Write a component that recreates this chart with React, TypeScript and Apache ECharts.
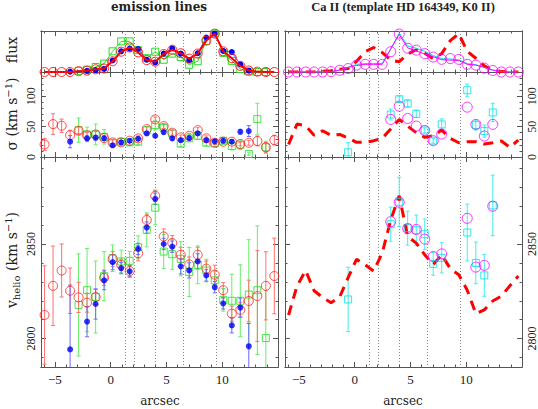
import React, { useEffect, useRef } from "react";
import * as echarts from "echarts";

// ---------- data ----------
const positions = [-5.93, -5.17, -4.4, -3.64, -2.88, -2.12, -1.35, -0.59, 0.17, 0.94, 1.7, 2.46, 3.23, 3.99, 4.75, 5.52, 6.28, 7.04, 7.8, 8.57, 9.33, 10.09, 10.86, 11.62, 12.38, 13.15, 13.91, 14.67];
const dottedLines = [1.32, 2.05, 4.0, 6.52, 9.43];

const xTickMajor = [-5, 0, 5, 10, 15];
const xTickLabels = [-5, 0, 5, 10];
const xTickMinor = [-6, -4, -3, -2, -1, 1, 2, 3, 4, 6, 7, 8, 9, 11, 12, 13, 14];
const sigmaTickMajor = [0, 50, 100];
const sigmaTickMinor = [10, 20, 30, 40, 60, 70, 80, 90, 110, 120, 130];
const velTickMajor = [2800, 2850];
const velTickMinor = [2790, 2810, 2820, 2830, 2840, 2860, 2870, 2880, 2890];

type N = number | null;
// emission lines: flux
const fluxRed: N[] = [0, 0, 0, 0, 0.02, 0.035, 0.07, 0.09, 0.28, 0.53, 0.64, 0.51, 0.31, 0.27, 0.47, 0.58, 0.49, 0.35, 0.48, 0.82, 1.0, 0.54, 0.36, 0.16, 0.04, 0.01, 0, 0];
const fluxBlue: N[] = [null, null, null, 0.01, null, 0.03, 0.05, 0.08, 0.3, 0.54, 0.61, 0.6, 0.32, 0.25, 0.48, 0.62, 0.48, 0.31, 0.49, 0.9, 1.0, 0.55, 0.52, 0.2, 0.035, null, null, null];
const fluxGreen: N[] = [null, null, null, null, 0.03, 0.06, 0.13, 0.22, 0.54, 0.8, 0.8, 0.57, 0.36, 0.53, 0.32, 0.48, 0.39, 0.19, 0.28, 0.81, 1.0, 0.5, 0.29, 0.08, 0.01, 0, 0, null];
// emission lines: sigma
const sigRed: N[] = [20.8, 54.2, 51.4, 36, 43.2, 35.6, 37.2, 31.2, 24.1, 24.1, 26.8, 30.7, 46, 61.9, 50.9, 40, 32.3, 35, 44.3, 30.7, 23.5, 25.2, 25.2, 21.3, 23.5, 26.3, 15.9, 27.9];
const sigRedErr: N[] = [10, 17, 11, 8, 6, 5, 5, 4, 4, 3, 3, 4, 4, 4, 4, 4, 4, 4, 4, 4, 3, 3, 3, 3, 4, 8, 8, 8];
const sigBlue: N[] = [null, null, null, 25.2, null, 30.7, 31.8, 30.7, 19.2, 24.1, 26.8, 30.1, 38.9, 35, 41, 30.7, 27.9, 31.2, 38.9, 27.9, 25.7, 26.8, 25.2, 41.6, 42.7, null, null, null];
const sigBlueErr: N[] = [null, null, null, 10, null, 4, 4, 3, 3, 3, 3, 3, 3, 3, 3, 3, 3, 3, 3, 3, 3, 3, 3, 4, 9, null, null, null];
const sigGreen: N[] = [null, null, null, null, 44.3, 37.2, 37.2, 33.3, 23.5, 25.2, 24.1, 25.2, 44, 52.5, 48, 38.9, 22, 30.7, 35, 23.5, 22.5, 26.8, 18, 20, 4.9, 62.4, 16, null];
const sigGreenErr: N[] = [null, null, null, null, 20, 12, 17, 12, 5, 5, 5, 5, 6, 8, 6, 5, 5, 5, 6, 5, 5, 5, 6, 8, 2, 26, 10, null];
// emission lines: velocity
const velRed: N[] = [2812.5, 2827.9, 2836, 2825.3, 2821.8, 2819, 2822, 2832.2, 2842, 2839, 2835.7, 2845.1, 2862.7, 2875.5, 2854, 2850.5, 2844.3, 2839.2, 2844.3, 2837, 2833.8, 2825.6, 2813.2, 2815.2, 2819.9, 2822.5, 2827.9, 2833.1];
const velRedErr: N[] = [26, 21, 14, 12, 8, 5, 4, 4, 4, 3, 3, 4, 3, 3, 4, 4, 4, 4, 4, 4, 5, 4, 4, 4, 11, 24, 18, 20];
const velBlue: N[] = [null, null, null, 2794.3, null, 2809, 2818.3, 2830.8, 2840.4, 2837.3, 2835.5, 2847.4, 2858.7, 2873.9, 2850, 2848.6, 2838.2, 2836.1, 2840.8, 2833.4, 2827.2, 2818.6, 2807, 2816.4, 2796, null, null, null];
const velBlueErr: N[] = [null, null, null, 34, null, 8, 8, 5, 4, 3, 3, 3, 3, 3, 3, 3, 4, 4, 4, 3, 3, 3, 4, 5, 12, null, null, null];
const velGreen: N[] = [null, null, null, null, 2817.8, 2825.6, 2822, 2833, 2842.5, 2840.8, 2841.1, 2848.3, 2857.5, 2869.2, 2846, 2844.6, 2842.2, 2835.2, 2839, 2836, 2830.8, 2820.5, 2820, 2820, 2823.3, 2825.6, 2800.3, null];
const velGreenErr: N[] = [null, null, null, null, 27, 22, 19, 13, 7, 6, 5, 6, 9, 9, 9, 8, 9, 13, 10, 6, 5, 6, 14, 19, 29, 34, 25, null];
// Ca II: flux
const fluxMag: N[] = [0, 0, 0, 0, 0, 0.01, 0.045, 0.09, 0.18, 0.2, 0.2, 0.2, 0.53, 0.99, 0.62, 0.57, 0.48, 0.39, 0.33, 0.35, 0.33, 0.2, 0.18, 0.1, 0.04, 0, 0, 0];
const fluxMagLine: N[] = [0, 0, 0, 0, 0, 0.01, 0.05, 0.12, 0.17, 0.2, 0.2, 0.2, 0.6, 0.98, 0.63, 0.55, 0.47, 0.4, 0.32, 0.31, 0.3, 0.2, 0.18, 0.12, 0.05, 0.01, 0, 0];
const fluxCyanLine: N[] = [0, 0, 0, 0, 0, 0.01, 0.05, 0.12, 0.2, 0.22, 0.22, 0.22, 0.6, 1.02, 0.68, 0.62, 0.54, 0.43, 0.35, 0.34, 0.32, 0.22, 0.19, 0.12, 0.05, 0.01, 0, 0];
// Ca II: sigma
const sigMag: N[] = [null, null, null, null, null, null, null, null, null, null, null, null, 61.9, 83.7, 63.5, 50.9, 43.8, 26.8, 37.8, null, null, 82.1, 53.7, 34.5, 53.7, null, null, null];
const sigCyan: N[] = [null, null, null, null, null, null, null, 7.7, null, null, null, null, 70, 95.2, 88.1, 71.1, 43.8, 26.8, 53.7, null, null, 110, 52.5, 42.7, 73.4, null, null, null];
const sigCyanErr: N[] = [null, null, null, null, null, null, null, 16, null, null, null, null, 9, 5, 6, 6, 4, 4, 9, null, null, 10, 8, 10, 15, null, null, null];
// Ca II: velocity
const velMag: N[] = [null, null, null, null, null, null, null, null, null, null, null, null, 2861.8, 2872.1, 2858.2, 2857.7, 2852.6, 2843.4, 2844.8, null, null, 2863.6, 2837.8, 2838.7, 2870, null, null, null];
const velCyan: N[] = [null, null, null, null, null, null, null, 2820.7, null, null, null, null, 2860.5, 2872.3, 2858.4, 2857.3, 2855.2, 2839.5, 2842.7, null, null, 2856.1, 2840, 2833.4, 2870.4, null, null, null];
const velCyanErr: N[] = [null, null, null, null, null, null, null, 17, null, null, null, null, 9, 13, 9, 8, 8, 6, 8, null, null, 15, 11, 11, 16, null, null, null];

// ---------- styling ----------
const FONT = "DejaVu Serif";
const TICKFONT = "Liberation Serif";
const FRAME = "#555";
const RED = "#ff2020";
const BLUE = "#0000ff";
const GREEN = "#22dd22";
const MAG = "#ff00ff";
const CYAN = "#00e0e8";
const XMIN = -6.25, XMAX = 15.0;

const pts = (ys: N[]) => positions.map((x, i) => (ys[i] == null ? null : [x, ys[i] as number])).filter(Boolean) as number[][];
const errs = (ys: N[], es: N[]) =>
  positions.map((x, i) => (ys[i] == null || es[i] == null ? null : [x, (ys[i] as number) - (es[i] as number), (ys[i] as number) + (es[i] as number)])).filter(Boolean) as number[][];

export default function App() {
  const ref = useRef<HTMLDivElement>(null);
  useEffect(() => {
    if (!ref.current) return;
    const chart = echarts.init(ref.current, undefined, { renderer: "svg" });

    const lefts = [41, 285];
    const rows = [
      { top: 31, height: 41, min: 0, max: 1.07, major: [] as number[], minor: [] as number[] },
      { top: 72, height: 85, min: 0, max: 140, major: sigmaTickMajor, minor: sigmaTickMinor },
      { top: 157, height: 210, min: 2785, max: 2896, major: velTickMajor, minor: velTickMinor },
    ];
    const grids: any[] = [];
    const xAxes: any[] = [];
    const yAxes: any[] = [];
    const mainX: number[] = [];
    const mainY: number[] = [];
    const tickStyle = { color: FRAME, width: 1 };
    for (let p = 0; p < 2; p++) {
      for (let r = 0; r < 3; r++) {
        const g = grids.length;
        const row = rows[r];
        grids.push({ left: lefts[p], width: 237, top: row.top, height: row.height, containLabel: false });
        const xa = (pos: string, ticks: number[], len: number, labels: boolean) => ({
          type: "value", gridIndex: g, position: pos, min: XMIN, max: XMAX,
          axisLine: { show: true, onZero: false, lineStyle: { color: FRAME, width: 1 } },
          axisTick: { show: true, inside: true, length: len, customValues: ticks, lineStyle: tickStyle },
          axisLabel: {
            show: labels, customValues: xTickLabels, margin: 6, fontFamily: TICKFONT, fontSize: 13, color: "#222",
            formatter: (v: number) => String(v).replace("-", "\u2212"),
          },
          splitLine: { show: false },
        });
        mainX[g] = xAxes.length;
        xAxes.push(xa("bottom", xTickMajor, 5, r === 2));
        xAxes.push(xa("bottom", xTickMinor, 2.5, false));
        xAxes.push(xa("top", xTickMajor, 5, false));
        xAxes.push(xa("top", xTickMinor, 2.5, false));
        const labelSide = p === 0 ? "left" : "right";
        const otherSide = p === 0 ? "right" : "left";
        const ya = (pos: string, ticks: number[], len: number, labels: boolean) => ({
          type: "value", gridIndex: g, position: pos, min: row.min, max: row.max,
          axisLine: { show: true, onZero: false, lineStyle: { color: FRAME, width: 1 } },
          axisTick: { show: ticks.length > 0, inside: true, length: len, customValues: ticks.length ? ticks : undefined, lineStyle: tickStyle },
          axisLabel: {
            show: labels, customValues: row.major.length ? row.major : undefined, rotate: 90, margin: 4,
            fontFamily: TICKFONT, fontSize: 12, color: "#222",
            formatter: (v: number) => String(v),
          },
          splitLine: { show: false },
        });
        mainY[g] = yAxes.length;
        yAxes.push(ya(labelSide, row.major, 5, r > 0));
        yAxes.push(ya(labelSide, row.minor, 2.5, false));
        yAxes.push(ya(otherSide, row.major, 5, false));
        yAxes.push(ya(otherSide, row.minor, 2.5, false));
      }
    }

    const series: any[] = [];
    const ax = (g: number) => ({ xAxisIndex: mainX[g], yAxisIndex: mainY[g] });
    const openCircle = (c: string) => ({ color: "rgba(0,0,0,0)", borderColor: c, borderWidth: 1 });

    // dotted vertical lines
    for (let g = 0; g < 6; g++) {
      series.push({
        type: "custom", ...ax(g), silent: true, z: 1,
        data: dottedLines.map((v) => [v]),
        encode: { x: 0 },
        renderItem: (params: any, api: any) => {
          const cs = params.coordSys;
          const x = Math.round(api.coord([api.value(0), rows[g % 3].min])[0]) + 0.5;
          return { type: "line", shape: { x1: x, y1: cs.y, x2: x, y2: cs.y + cs.height }, style: { stroke: "#888", lineWidth: 1, lineDash: [1, 2] } };
        },
      });
    }

    const errSeries = (g: number, data: number[][], color: string) => ({
      type: "custom", ...ax(g), clip: true, silent: true, z: 2,
      data, encode: { x: 0, y: [1, 2] },
      renderItem: (_p: any, api: any) => {
        const x = api.value(0);
        const a = api.coord([x, api.value(1)]);
        const b = api.coord([x, api.value(2)]);
        const st = { stroke: color, lineWidth: 1 };
        return {
          type: "group",
          children: [
            { type: "line", shape: { x1: a[0], y1: a[1], x2: b[0], y2: b[1] }, style: st },
            { type: "line", shape: { x1: a[0] - 2, y1: a[1], x2: a[0] + 2, y2: a[1] }, style: st },
            { type: "line", shape: { x1: b[0] - 2, y1: b[1], x2: b[0] + 2, y2: b[1] }, style: st },
          ],
        };
      },
    });
    const scatter = (g: number, data: number[][], symbol: string, size: number, itemStyle: any, z = 3) => ({
      type: "scatter", ...ax(g), data, symbol, symbolSize: size, itemStyle, z, silent: true, clip: true,
    });

    // left flux
    series.push({ type: "line", ...ax(0), data: pts(fluxGreen), symbol: "rect", symbolSize: 7, lineStyle: { color: GREEN, width: 1 }, itemStyle: openCircle(GREEN), z: 3, silent: true });
    series.push({ type: "line", ...ax(0), data: pts(fluxBlue), symbol: "circle", symbolSize: 6, lineStyle: { color: "#5555ff", width: 1 }, itemStyle: { color: BLUE }, z: 4, silent: true });
    series.push({ type: "line", ...ax(0), data: pts(fluxRed), symbol: "circle", symbolSize: 9, lineStyle: { color: "#ff0000", width: 2 }, itemStyle: openCircle(RED), z: 5, silent: true });

    // left sigma & velocity
    const leftRows: [number, N[], N[], N[], N[], N[], N[]][] = [
      [1, sigGreen, sigGreenErr, sigRed, sigRedErr, sigBlue, sigBlueErr],
      [2, velGreen, velGreenErr, velRed, velRedErr, velBlue, velBlueErr],
    ];
    for (const [g, gv, ge, rv, re, bv, be] of leftRows) {
      series.push(errSeries(g, errs(gv, ge), "#66ee66"));
      series.push(errSeries(g, errs(rv, re), "#ff7070"));
      series.push(errSeries(g, errs(bv, be), "#6a6aff"));
      series.push(scatter(g, pts(gv), "rect", 7, openCircle(GREEN), 3));
      series.push(scatter(g, pts(rv), "circle", 9, openCircle(RED), 4));
      series.push(scatter(g, pts(bv), "circle", 6, { color: BLUE }, 5));
    }

    // right flux
    series.push({ type: "line", ...ax(3), data: pts(fluxRed), symbol: "none", lineStyle: { color: "#ff0000", width: 3, type: [10, 7] }, z: 3, silent: true });
    series.push({ type: "line", ...ax(3), data: pts(fluxCyanLine), symbol: "none", lineStyle: { color: CYAN, width: 1 }, z: 4, silent: true });
    series.push({ type: "line", ...ax(3), data: pts(fluxMagLine), symbol: "none", lineStyle: { color: MAG, width: 1 }, z: 5, silent: true });
    series.push(scatter(3, pts(fluxMag), "circle", 10, openCircle(MAG), 6));

    // right sigma & velocity
    const rightRows: [number, N[], N[], N[], N[]][] = [
      [4, sigRed, sigCyan, sigCyanErr, sigMag],
      [5, velRed, velCyan, velCyanErr, velMag],
    ];
    for (const [g, dv, cv, ce, mv] of rightRows) {
      series.push({ type: "line", ...ax(g), data: pts(dv), symbol: "none", lineStyle: { color: "#ff0000", width: 3, type: [10, 7] }, z: 3, silent: true });
      series.push(errSeries(g, errs(cv, ce), "#44eeee"));
      series.push(scatter(g, pts(cv), "rect", 7, openCircle(CYAN), 4));
      series.push(scatter(g, pts(mv), "circle", 10, openCircle(MAG), 5));
    }

    const txt = (x: number, y: number, text: string, size: number, bold = false, rot = 0, rich?: any, family = FONT) => ({
      type: "text", x, y, rotation: rot, silent: true,
      style: { text, fontFamily: family, fontSize: size, fontWeight: bold ? "bold" : "normal", fill: "#222", align: "center", verticalAlign: "middle", rich },
    });
    const richLab = {
      a: { fontFamily: FONT, fontSize: 14, lineHeight: 18, verticalAlign: "middle", fill: "#222" },
      sub: { fontFamily: FONT, fontSize: 10, lineHeight: 9, verticalAlign: "bottom", fill: "#222" },
      sup: { fontFamily: FONT, fontSize: 10, lineHeight: 9, verticalAlign: "top", fill: "#222" },
    };

    chart.setOption({
      animation: false,
      backgroundColor: "#ffffff",
      grid: grids,
      xAxis: xAxes,
      yAxis: yAxes,
      series,
      graphic: {
        elements: [
          txt(159, 7, "emission lines", 12, true),
          txt(403, 7, "Ca II (template HD 164349, K0 II)", 12.5, true, 0, undefined, "Liberation Serif"),
          txt(160, 401, "arcsec", 12),
          txt(403, 401, "arcsec", 12),
          txt(12, 50, "flux", 14, false, Math.PI / 2),
          txt(12, 114, "{a|\u03c3 (km s}{sup|\u22121}{a|)}", 14, false, Math.PI / 2, richLab),
          txt(12, 260, "{a|v}{sub|helio}{a| (km s}{sup|\u22121}{a|)}", 14, false, Math.PI / 2, richLab),
        ],
      },
    });
    return () => chart.dispose();
  }, []);
  return <div ref={ref} style={{ position: "absolute", left: 0, top: 0, width: 538, height: 409, background: "#fff" }} />;
}
